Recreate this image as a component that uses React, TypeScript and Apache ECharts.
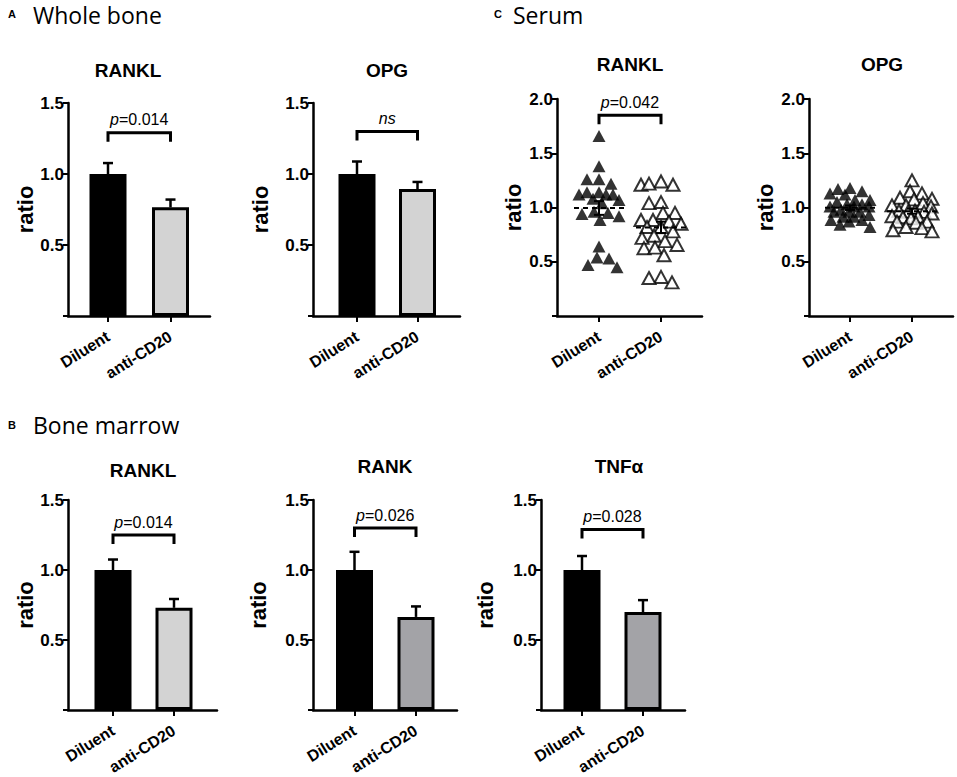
import React, { useEffect, useRef } from 'react';
import * as echarts from 'echarts';

// ---------------- data ----------------
const groups = ['Diluent', 'anti-CD20'];

// A — whole bone (mean ratio, SEM)
const wbRanklMean = [1.0, 0.765];
const wbRanklSem = [0.077, 0.055];
const wbOpgMean = [1.0, 0.894];
const wbOpgSem = [0.088, 0.05];

// B — bone marrow (mean ratio, SEM)
const bmRanklMean = [1.0, 0.73];
const bmRanklSem = [0.075, 0.063];
const bmRankMean = [1.0, 0.665];
const bmRankSem = [0.13, 0.075];
const bmTnfMean = [1.0, 0.70];
const bmTnfSem = [0.10, 0.085];

// C — serum, individual animals
const serumRanklDiluent = [1.66, 1.38, 1.26, 1.22, 1.26, 1.14, 1.12, 1.12, 1.12, 1.14, 1.08, 1.07, 1.04, 0.96, 0.95, 0.94, 0.92, 0.885, 0.64, 0.53, 0.45, 0.47, 0.54];
const serumRanklAnti = [1.24, 1.21, 1.21, 1.22, 1.04, 1.05, 0.95, 0.95, 0.885, 0.885, 0.87, 0.82, 0.82, 0.85, 0.78, 0.74, 0.72, 0.655, 0.69, 0.625, 0.63, 0.56, 0.36, 0.31, 0.35];
const serumOpgDiluent = [1.18, 1.15, 1.12, 1.13, 1.17, 1.07, 1.05, 1.07, 1.01, 1.03, 1.01, 1.03, 1.01, 0.96, 0.98, 0.96, 0.96, 0.915, 0.93, 0.915, 0.87, 0.885, 0.885, 0.82, 0.84];
const serumOpgAnti = [1.25, 1.15, 1.13, 1.08, 1.075, 1.09, 1.02, 1.02, 1.04, 1.01, 0.96, 0.97, 0.96, 0.97, 0.945, 0.915, 0.91, 0.92, 0.90, 0.87, 0.86, 0.87, 0.82, 0.81, 0.78, 0.79];

// significance annotations
const pLabels = ['0.014', 'ns', '0.042', '0.014', '0.026', '0.028'];
const bracketLevels = [1.29, 1.30, 1.85, 1.25, 1.30, 1.29];

// ---------------- styling / layout ----------------
const FONT = "'Liberation Sans', Arial, Helvetica, sans-serif";
const OPEN = "'Open Sans', 'Noto Sans', sans-serif";
const BLACK = '#000000';
const LIGHT = '#d3d3d3';
const MID = '#a3a3a7';

type Panel = {
  title: string; tx: number; ty: number;
  left: number; right: number; top: number; bottom: number; c0: number; c1: number;
  yMax: number; nameGap: number;
  kind: 'bar' | 'scatter';
  mean?: number[]; sem?: number[]; colors?: string[];
  points?: number[][];
  p: string; level: number;
};

const panels: Panel[] = [
  { title: 'RANKL', tx: 128, ty: 70, left: 68, right: 210, top: 103, bottom: 316, c0: 108, c1: 170.5, yMax: 1.5, nameGap: 32, kind: 'bar', mean: wbRanklMean, sem: wbRanklSem, colors: [BLACK, LIGHT], p: pLabels[0], level: bracketLevels[0] },
  { title: 'OPG', tx: 387, ty: 70, left: 313, right: 460, top: 103, bottom: 316, c0: 357, c1: 417.5, yMax: 1.5, nameGap: 42, kind: 'bar', mean: wbOpgMean, sem: wbOpgSem, colors: [BLACK, LIGHT], p: pLabels[1], level: bracketLevels[1] },
  { title: 'RANKL', tx: 630, ty: 64, left: 557, right: 702, top: 99, bottom: 316, c0: 599, c1: 661, yMax: 2.0, nameGap: 33, kind: 'scatter', points: [serumRanklDiluent, serumRanklAnti], p: pLabels[2], level: bracketLevels[2] },
  { title: 'OPG', tx: 882, ty: 64, left: 809, right: 953, top: 99, bottom: 316, c0: 850, c1: 912, yMax: 2.0, nameGap: 33, kind: 'scatter', points: [serumOpgDiluent, serumOpgAnti], p: '', level: 0 },
  { title: 'RANKL', tx: 143, ty: 470, left: 68, right: 217, top: 500, bottom: 714, c0: 113, c1: 174, yMax: 1.5, nameGap: 32, kind: 'bar', mean: bmRanklMean, sem: bmRanklSem, colors: [BLACK, LIGHT], p: pLabels[3], level: bracketLevels[3] },
  { title: 'RANK', tx: 385, ty: 466, left: 313, right: 457, top: 500, bottom: 714, c0: 354.5, c1: 416, yMax: 1.5, nameGap: 44, kind: 'bar', mean: bmRankMean, sem: bmRankSem, colors: [BLACK, MID], p: pLabels[4], level: bracketLevels[4] },
  { title: 'TNFα', tx: 619, ty: 466, left: 541, right: 685, top: 500, bottom: 714, c0: 582, c1: 643, yMax: 1.5, nameGap: 45, kind: 'bar', mean: bmTnfMean, sem: bmTnfSem, colors: [BLACK, MID], p: pLabels[5], level: bracketLevels[5] },
];

// simple beeswarm: x offsets (px) so that symbols do not overlap, bounded spread
function swarm(values: number[], pxPerUnit: number, maxHalf: number, d: number): number[] {
  const order = values.map((_, i) => i).sort((a, b) => values[b] - values[a]);
  const placed: { x: number; y: number }[] = [];
  const offs = new Array(values.length).fill(0);
  order.forEach((i, n) => {
    const y = values[i] * pxPerUnit;
    let best = 0;
    let bestScore = -Infinity;
    let done = false;
    for (let s = 0; s <= maxHalf && !done; s += 1) {
      const cands = s === 0 ? [0] : n % 2 === 0 ? [s, -s] : [-s, s];
      for (const x of cands) {
        let minD = Infinity;
        for (const p of placed) {
          const dd = Math.hypot(p.x - x, (p.y - y) * 1.1);
          if (dd < minD) minD = dd;
        }
        if (minD >= d) { best = x; done = true; break; }
        if (minD > bestScore + 0.5) { bestScore = minD; best = x; }
      }
    }
    offs[i] = best;
    placed.push({ x: best, y });
  });
  return offs;
}

function buildOption() {
  const series: any[] = [];

  panels.forEach((p, i) => {
    const u = p.c1 - p.c0;
    const pxY = (p.bottom - p.top) / p.yMax;
    if (p.kind === 'bar' && p.mean && p.sem && p.colors) {
      const mean = p.mean, sem = p.sem, colors = p.colors;
      series.push({
        type: 'bar', xAxisIndex: i, yAxisIndex: i, barWidth: 37, z: 2,
        itemStyle: { borderColor: BLACK, borderWidth: 3 },
        data: mean.map((m, k) => ({ value: [k, m], itemStyle: { color: colors[k] } })),
      });
      series.push({
        type: 'custom', xAxisIndex: i, yAxisIndex: i, z: 3,
        data: mean.map((m, k) => [k, m, m + sem[k]]),
        renderItem: (_params: any, api: any) => {
          const x = api.value(0);
          const lo = api.coord([x, api.value(1)]);
          const hi = api.coord([x, api.value(2)]);
          return {
            type: 'group', children: [
              { type: 'line', shape: { x1: lo[0], y1: lo[1], x2: hi[0], y2: hi[1] }, style: { stroke: BLACK, lineWidth: 2.5 } },
              { type: 'line', shape: { x1: hi[0] - 5, y1: hi[1], x2: hi[0] + 5, y2: hi[1] }, style: { stroke: BLACK, lineWidth: 2.5 } },
            ],
          };
        },
      });
    }
    if (p.kind === 'scatter' && p.points) {
      p.points.forEach((vals, k) => {
        const offs = swarm(vals, pxY, 20, 12);
        series.push({
          type: 'scatter', xAxisIndex: i, yAxisIndex: i, z: 3,
          symbol: 'triangle', symbolSize: [13, 12],
          itemStyle: k === 0 ? { color: BLACK } : { color: '#ffffff', borderColor: BLACK, borderWidth: 2 },
          data: vals.map((v, j) => [k + offs[j] / u, v]),
        });
      });
      const stats = p.points.map((vals, k) => {
        const n = vals.length;
        const m = vals.reduce((a, b) => a + b, 0) / n;
        const sd = Math.sqrt(vals.reduce((a, b) => a + (b - m) * (b - m), 0) / (n - 1));
        return [k, m, sd / Math.sqrt(n)];
      });
      series.push({
        type: 'custom', xAxisIndex: i, yAxisIndex: i, z: 4,
        data: stats,
        renderItem: (_params: any, api: any) => {
          const x = api.value(0), m = api.value(1), s = api.value(2);
          const c = api.coord([x, m]);
          const hi = api.coord([x, m + s]);
          const lo = api.coord([x, m - s]);
          return {
            type: 'group', children: [
              { type: 'line', shape: { x1: c[0] - 25, y1: c[1], x2: c[0] + 25, y2: c[1] }, style: { stroke: BLACK, lineWidth: 2, lineDash: [5, 4] } },
              { type: 'line', shape: { x1: lo[0], y1: lo[1], x2: hi[0], y2: hi[1] }, style: { stroke: BLACK, lineWidth: 2 } },
              { type: 'line', shape: { x1: hi[0] - 5, y1: hi[1], x2: hi[0] + 5, y2: hi[1] }, style: { stroke: BLACK, lineWidth: 2 } },
              { type: 'line', shape: { x1: lo[0] - 5, y1: lo[1], x2: lo[0] + 5, y2: lo[1] }, style: { stroke: BLACK, lineWidth: 2 } },
            ],
          };
        },
      });
    }
    if (p.p) {
      const label = p.p === 'ns' ? '{i|ns}' : `{i|p}=${p.p}`;
      series.push({
        type: 'custom', xAxisIndex: i, yAxisIndex: i, z: 5,
        data: [[0, 1, p.level]],
        renderItem: (_params: any, api: any) => {
          const a = api.coord([api.value(0), api.value(2)]);
          const b = api.coord([api.value(1), api.value(2)]);
          return {
            type: 'group', children: [
              { type: 'polyline', shape: { points: [[a[0], a[1] + 9], [a[0], a[1]], [b[0], b[1]], [b[0], b[1] + 9]] }, style: { stroke: BLACK, lineWidth: 3, fill: 'none' } },
              {
                type: 'text', x: (a[0] + b[0]) / 2, y: a[1] - 5,
                style: {
                  text: label, fill: BLACK, fontSize: 16, fontFamily: FONT, align: 'center', verticalAlign: 'bottom',
                  rich: { i: { fontStyle: 'italic', fontSize: 16, fontFamily: FONT, fill: BLACK } },
                },
              },
            ],
          };
        },
      });
    }
  });

  const headerStyle = (text: string, size: number, weight: string, family: string) => ({
    text, fill: BLACK, fontSize: size, fontWeight: weight, fontFamily: family,
    textAlign: 'left', textVerticalAlign: 'middle', align: 'left', verticalAlign: 'middle',
  });

  const graphic: any[] = [
    { type: 'text', x: 8, y: 14, style: headerStyle('A', 11, 'bold', FONT) },
    { type: 'text', x: 33, y: 15, style: headerStyle('Whole bone', 23, 'normal', OPEN) },
    { type: 'text', x: 8, y: 425, style: headerStyle('B', 11, 'bold', FONT) },
    { type: 'text', x: 33, y: 425, style: headerStyle('Bone marrow', 23, 'normal', OPEN) },
    { type: 'text', x: 494, y: 14, style: headerStyle('C', 11, 'bold', FONT) },
    { type: 'text', x: 513, y: 15, style: headerStyle('Serum', 23, 'normal', OPEN) },
    ...panels.map((p) => ({
      type: 'text', x: p.tx, y: p.ty,
      style: { text: p.title, fill: BLACK, fontSize: 19, fontWeight: 'bold', fontFamily: FONT, textAlign: 'center', textVerticalAlign: 'middle', align: 'center', verticalAlign: 'middle' },
    })),
  ];

  return {
    animation: false,
    backgroundColor: '#ffffff',
    grid: panels.map((p) => ({ left: p.left, top: p.top, width: p.right - p.left, height: p.bottom - p.top, containLabel: false })),
    xAxis: panels.map((p, i) => {
      const u = p.c1 - p.c0;
      return {
        type: 'value', gridIndex: i,
        min: -(p.c0 - p.left) / u, max: 1 + (p.right - p.c1) / u,
        axisLine: { show: true, onZero: false, lineStyle: { color: BLACK, width: 2.5 } },
        axisTick: { show: true, length: 6, customValues: [0, 1], lineStyle: { color: BLACK, width: 2 } },
        axisLabel: {
          show: true, customValues: [0, 1], rotate: 32, margin: 19,
          color: BLACK, fontWeight: 'bold', fontSize: 16, fontFamily: FONT,
          formatter: (v: number) => groups[Math.round(v)] ?? '',
        },
        splitLine: { show: false },
      };
    }),
    yAxis: panels.map((p, i) => ({
      type: 'value', gridIndex: i, min: 0, max: p.yMax, interval: 0.5,
      axisLine: { show: true, onZero: false, lineStyle: { color: BLACK, width: 2.5 } },
      axisTick: { show: true, length: 5, lineStyle: { color: BLACK, width: 2 } },
      axisLabel: {
        color: BLACK, fontWeight: 'bold', fontSize: 17, fontFamily: FONT, margin: 4,
        formatter: (v: number) => (v === 0 ? '' : v.toFixed(1)),
      },
      splitLine: { show: false },
      name: 'ratio', nameLocation: 'middle', nameGap: p.nameGap, nameRotate: 90,
      nameTextStyle: { color: BLACK, fontWeight: 'bold', fontSize: 22, fontFamily: FONT },
    })),
    series,
    graphic,
  };
}

export default function App() {
  const ref = useRef<HTMLDivElement>(null);
  useEffect(() => {
    if (!ref.current) return;
    const chart = echarts.init(ref.current, undefined, { renderer: 'svg' });
    chart.setOption(buildOption() as any);
    return () => chart.dispose();
  }, []);
  return <div ref={ref} style={{ position: 'absolute', left: 0, top: 0, width: 957, height: 777, background: '#fff' }} />;
}
